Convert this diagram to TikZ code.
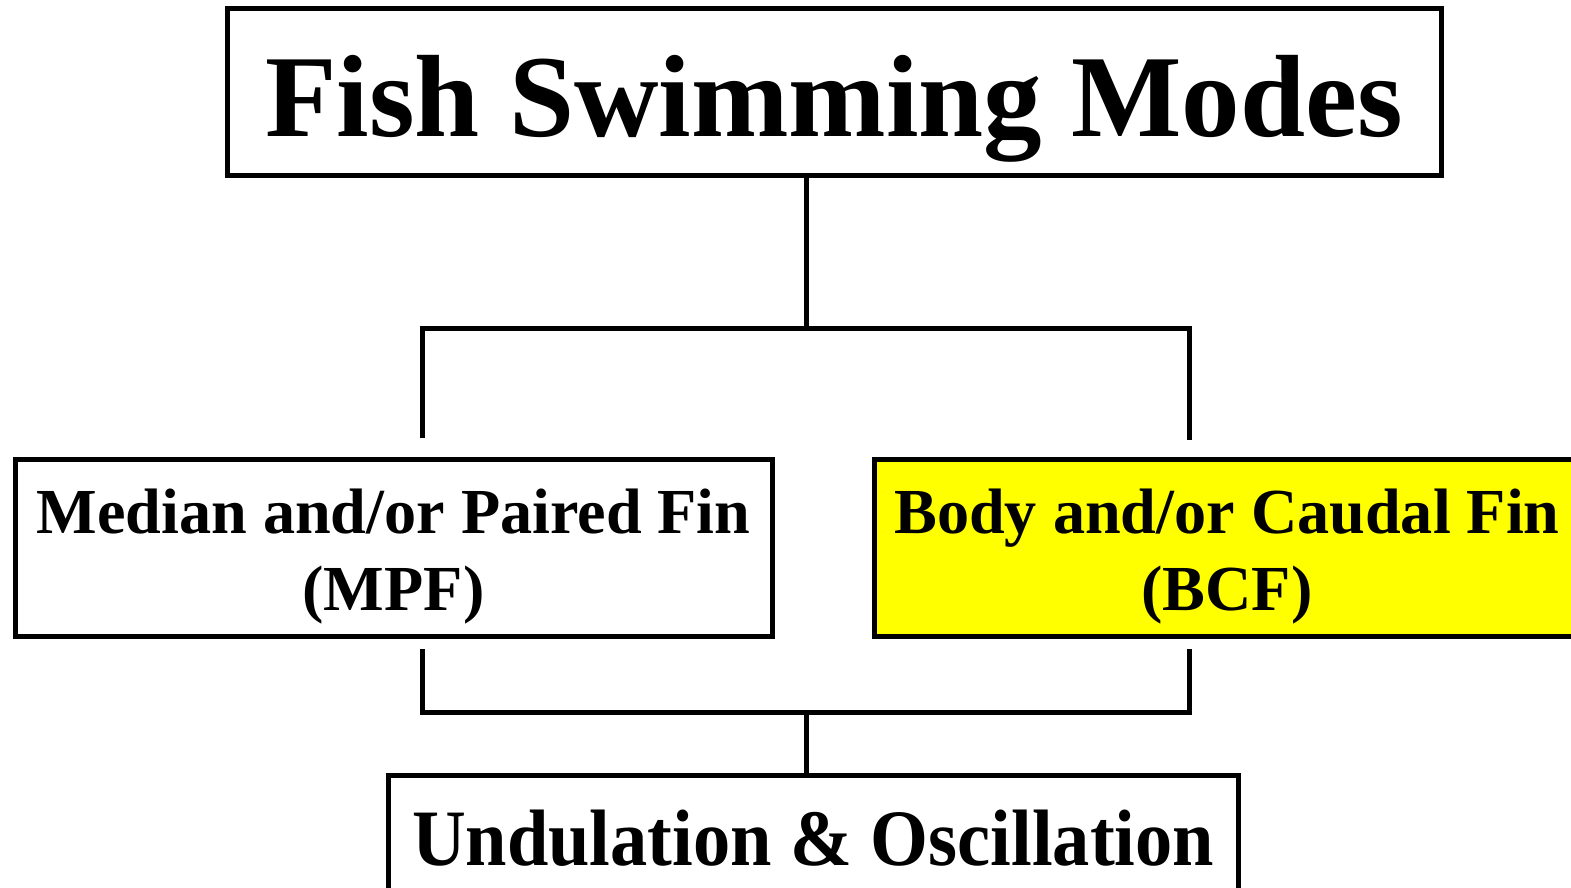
\documentclass[tikz,border=0pt]{standalone}
\usepackage{fontspec}
\setmainfont{Liberation Serif}
\definecolor{bcfyellow}{RGB}{255,255,0}
\tikzset{every node/.style={draw,rectangle,line width=5pt,inner sep=0pt,font=\bfseries},
  link/.style={line width=5pt}}

\begin{document}
\begin{tikzpicture}[x=1pt,y=-1pt]
      \useasboundingbox (0,0) rectangle (1571,888);
      \clip (0,0) rectangle (1571,888);
      \node[minimum width=1214pt,minimum height=166pt,text height=100pt,text depth=10pt,font=\fontsize{117}{117}\bfseries] (title) at (834,92) {Fish Swimming Modes};
      \node[minimum width=757pt,minimum height=177pt,align=center,font=\fontsize{64.2}{77}\bfseries] (mpf) at (393.5,547.5) {\rule{0pt}{63pt}Median and/or Paired Fin\\(MPF)};
      \node[minimum width=706pt,minimum height=177pt,align=center,fill=bcfyellow,font=\fontsize{64.2}{77}\bfseries] (bcf) at (1227,547.5) {\rule{0pt}{63pt}Body and/or Caudal Fin\\(BCF)};
      \node[minimum width=850pt,minimum height=140pt,text height=63pt,text depth=23pt,font=\fontsize{80}{80}\bfseries] (uo) at (813,845) {\scalebox{0.93}[1]{Undulation \& Oscillation}};

      \coordinate (top) at (806,328);
      \coordinate (topl) at (422,328);
      \coordinate (topr) at (1189,328);
      \coordinate (bot) at (806,712);
      \coordinate (botl) at (422,712);
      \coordinate (botr) at (1189,712);

      \draw[link] (title.south -| top) -- (top);
      \draw[link] (topl |- mpf.north) ++(0,-19) -- (topl) -- (topr) -- ++(0,112);
      \draw[link] (botl) ++(0,-63) -- (botl) -- (botr) -- ++(0,-63);
      \draw[link] (bot) -- (uo.north -| bot);
    \end{tikzpicture}
\end{document}
